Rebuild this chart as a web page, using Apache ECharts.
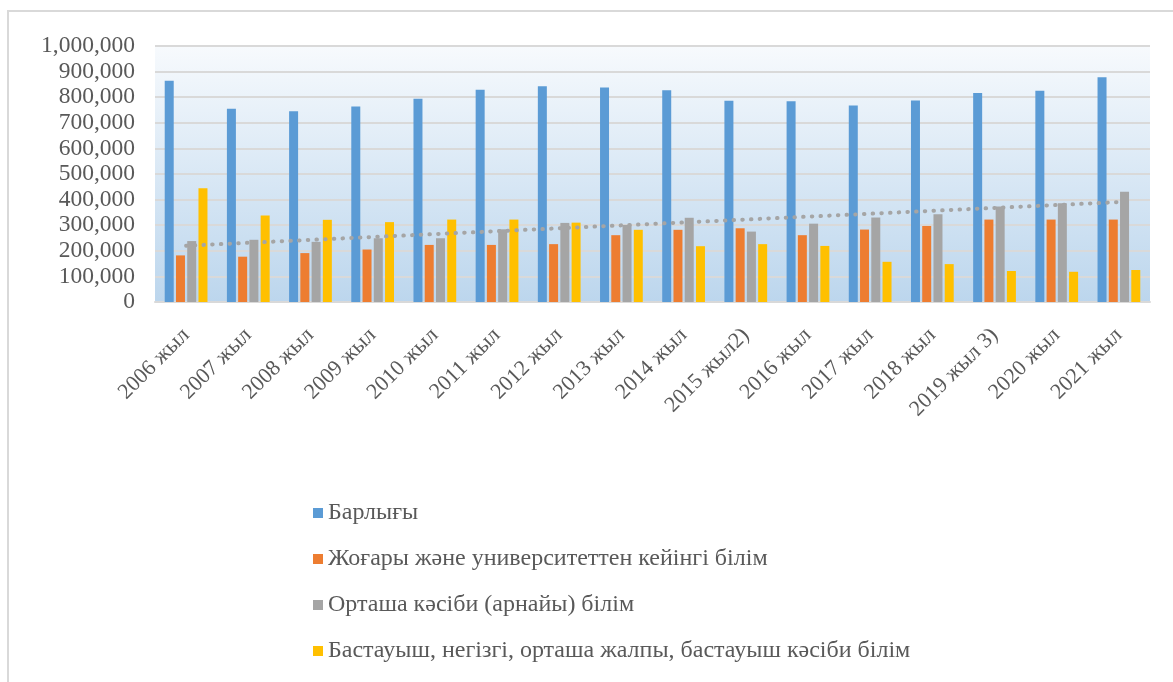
<!DOCTYPE html>
<html>
<head>
<meta charset="utf-8">
<script src="https://cdn.jsdelivr.net/npm/echarts@6/dist/echarts.min.js"></script>
<style>
    html, body { margin: 0; padding: 0; background: #fff; }
    #chart { width: 1173px; height: 682px; }
</style>
</head>
<body>
<div id="chart"></div>
<script>
// 年份
const years = ['2006 жыл', '2007 жыл', '2008 жыл', '2009 жыл', '2010 жыл', '2011 жыл', '2012 жыл', '2013 жыл',
    '2014 жыл', '2015 жыл2)', '2016 жыл', '2017 жыл', '2018 жыл', '2019 жыл 3)', '2020 жыл', '2021 жыл'];

const seriesNames = [
    'Барлығы',
    'Жоғары және университеттен кейінгі білім',
    'Орташа кәсіби (арнайы) білім',
    'Бастауыш, негізгі, орташа жалпы, бастауыш кәсіби білім'
];

const total = [864000, 755000, 745000, 764000, 794000, 829000, 843000, 838000, 827000, 786000, 784000, 768000, 787000, 816000, 825000, 878000];
const higher = [182000, 177000, 191000, 205000, 223000, 223000, 226000, 261000, 282000, 288000, 261000, 283000, 297000, 322000, 322000, 322000];
const vocational = [238000, 243000, 235000, 249000, 249000, 284000, 309000, 301000, 329000, 275000, 306000, 330000, 343000, 373000, 386000, 431000];
const general = [444000, 338000, 321000, 312000, 322000, 322000, 310000, 282000, 218000, 226000, 219000, 157000, 148000, 121000, 118000, 125000];

const colors = ['#5b9bd5', '#ed7d31', '#a5a5a5', '#ffc000'];
const font = "'Liberation Serif', 'Times New Roman', serif";

// 线性趋势线(按 Excel 的做法拟合 Орташа кәсіби)
function linearTrend(values) {
    let n = values.length, sx = 0, sy = 0, sxy = 0, sxx = 0;
    values.forEach((y, i) => {
        sx += i; sy += y; sxy += i * y; sxx += i * i;
    });
    let slope = (n * sxy - sx * sy) / (n * sxx - sx * sx),
        icpt = (sy - slope * sx) / n;
    return values.map((y, i) => icpt + slope * i);
}

let chart = echarts.init(document.getElementById('chart'));

let barSeries = [total, higher, vocational, general].map((d, i) => ({
    name: seriesNames[i],
    type: 'bar',
    data: d,
    barWidth: 9,
    barGap: '25%',
    itemStyle: { color: colors[i] }
}));

chart.setOption({
    animation: false,
    color: colors,
    graphic: [
        {
            type: 'rect',
            shape: { x: 8, y: 11, width: 1200, height: 700 },
            style: { fill: null, stroke: '#d9d9d9', lineWidth: 2 },
            silent: true
        }
    ],
    legend: {
        orient: 'vertical',
        left: 308,
        top: 496,
        itemWidth: 10,
        itemHeight: 10,
        itemGap: 22,
        icon: 'rect',
        data: seriesNames,
        textStyle: {
            fontFamily: font,
            fontSize: 24,
            lineHeight: 24,
            color: '#595959'
        }
    },
    grid: {
        left: 155,
        right: 23,
        top: 46,
        bottom: 380,
        backgroundColor: new echarts.graphic.LinearGradient(0, 0, 0, 1, [
            { offset: 0, color: '#f7fafd' },
            { offset: 1, color: '#bcd6ed' }
        ]),
        show: true,
        borderWidth: 0
    },
    xAxis: {
        type: 'category',
        data: years,
        axisLine: { lineStyle: { color: '#d9d9d9', width: 2 } },
        axisTick: { show: false },
        axisLabel: {
            rotate: 45,
            interval: 0,
            margin: 30,
            fontFamily: font,
            fontSize: 22,
            color: '#595959'
        }
    },
    yAxis: {
        type: 'value',
        min: 0,
        max: 1000000,
        interval: 100000,
        axisLine: { show: false },
        axisTick: { show: false },
        splitLine: { lineStyle: { color: '#d9d9d9', width: 2 } },
        axisLabel: {
            margin: 20,
            fontFamily: font,
            fontSize: 23.5,
            color: '#595959',
            formatter: v => v.toLocaleString('en-US')
        }
    },
    series: barSeries.concat([
        {
            name: 'trend',
            type: 'line',
            data: linearTrend(vocational),
            symbol: 'none',
            silent: true,
            z: 5,
            lineStyle: {
                color: '#a5a5a5',
                width: 4,
                type: [0.5, 8.2],
                cap: 'round'
            }
        }
    ])
});
</script>
</body>
</html>
